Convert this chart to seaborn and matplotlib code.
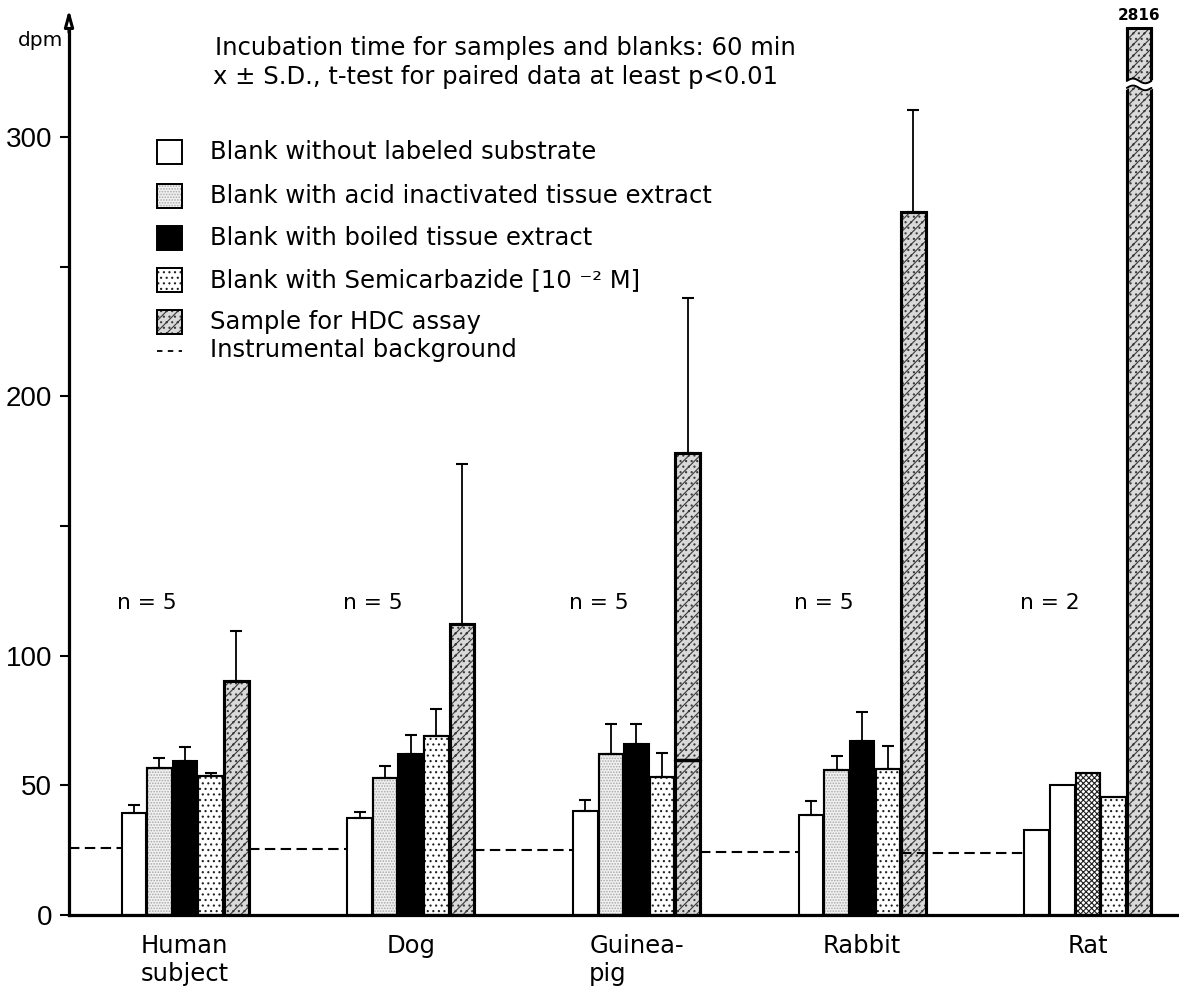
import numpy as np
import pandas as pd
import matplotlib
matplotlib.use("Agg")
import matplotlib.pyplot as plt
from matplotlib.patches import Rectangle
from matplotlib.lines import Line2D
import seaborn as sns

# ---------------------------------------------------------------- data
species = ["Human\nsubject", "Dog", "Guinea-\npig", "Rabbit", "Rat"]
n_animals = [5, 5, 5, 5, 2]

conditions = ["no_substrate", "acid", "boiled", "semicarbazide", "sample"]
condition_labels = [
    "Blank without labeled substrate",
    "Blank with acid inactivated tissue extract",
    "Blank with boiled tissue extract",
    "Blank with Semicarbazide [10 \u207b\u00b2 M]",
    "Sample for HDC assay",
]

# mean dpm per species
blank_no_substrate = [39.4, 37.5, 40.2, 38.5, 32.8]
blank_acid = [56.5, 52.9, 61.9, 55.9, 50.1]
blank_boiled = [59.4, 61.9, 65.9, 67.1, 54.6]
blank_semicarbazide = [53.6, 69.1, 53.3, 56.3, 45.6]
sample_hdc = [90.2, 112.1, 178.1, 271.1, 2816]

# standard deviations (upper whisker only); none reported for rat
sd_no_substrate = [3.0, 2.2, 4.1, 5.4, np.nan]
sd_acid = [4.0, 4.6, 11.7, 5.5, np.nan]
sd_boiled = [5.2, 7.6, 7.7, 11.2, np.nan]
sd_semicarbazide = [1.3, 10.2, 9.0, 9.0, np.nan]
sd_sample = [19.3, 61.6, 59.8, 39.2, np.nan]

# instrumental background level left of each species group
background = [25.7, 25.4, 25.1, 24.2, 24.0]
guinea_pig_mark = 59.7

means = [blank_no_substrate, blank_acid, blank_boiled, blank_semicarbazide, sample_hdc]
sds = [sd_no_substrate, sd_acid, sd_boiled, sd_semicarbazide, sd_sample]

df = pd.DataFrame(
    [(sp, cond, m[i]) for cond, m in zip(conditions, means) for i, sp in enumerate(species)],
    columns=["species", "condition", "dpm"],
)

# ---------------------------------------------------------------- style
sns.set_theme(style="white")
plt.rcParams["font.family"] = ["DejaVu Sans"]
plt.rcParams["text.color"] = "black"
plt.rcParams["xtick.color"] = "black"
plt.rcParams["ytick.color"] = "black"
plt.rcParams["axes.labelcolor"] = "black"
plt.rcParams["hatch.linewidth"] = 0.8

W, H = 1179, 996
fig = plt.figure(figsize=(W / 100, H / 100), dpi=100)
ax = fig.add_axes([69 / W, (H - 915) / H, (1178 - 69) / W, (915 - 28) / H])

face = {"no_substrate": "white", "acid": "#f1f1f1", "boiled": "black",
        "semicarbazide": "white", "sample": "#d9d9d9"}

sns.barplot(data=df, x="species", y="dpm", hue="condition", order=species,
            hue_order=conditions, palette=face, width=0.567, gap=0.04,
            edgecolor="black", linewidth=1.5, errorbar=None, legend=False,
            saturation=1, ax=ax)

Y_TOP = 342
ax.set_ylim(0, Y_TOP)
ax.set_xlim(-0.514, 4.399)

hatch_style = {
    "acid": ("......", "#a8a8a8"),
    "semicarbazide": ("...", "#202020"),
    "sample": ("///...", "#3a3a3a"),
}

bar_geom = {}
for cond, cont in zip(conditions, ax.containers):
    for i, p in enumerate(cont.patches):
        bar_geom[(cond, i)] = (p.get_x(), p.get_width(), p.get_height())
        hs = hatch_style.get(cond)
        if species[i] == "Rat" and cond == "boiled":
            p.set_facecolor("white")
            hs = ("xxxxxx", "#202020")
        if species[i] == "Rat" and cond == "acid":
            p.set_facecolor("white")
            hs = None
        if cond == "sample":
            p.set_linewidth(2.2)
        if hs is not None:
            ax.add_patch(Rectangle(p.get_xy(), p.get_width(), p.get_height(),
                                   fill=False, hatch=hs[0], edgecolor=hs[1],
                                   linewidth=0, zorder=p.get_zorder() + 0.1))
            # outline again on top of the texture
            ax.add_patch(Rectangle(p.get_xy(), p.get_width(), p.get_height(),
                                   fill=False, edgecolor="black",
                                   linewidth=p.get_linewidth(),
                                   zorder=p.get_zorder() + 0.2))

# upper S.D. whiskers
for cond, m, s in zip(conditions, means, sds):
    for i in range(len(species)):
        if np.isnan(s[i]):
            continue
        x0, w, h = bar_geom[(cond, i)]
        ax.errorbar(x0 + w / 2, m[i], yerr=[[0], [s[i]]], fmt="none",
                    ecolor="black", elinewidth=1.3, capsize=4.5, capthick=1.5,
                    zorder=1)

# instrumental background (dashed segments between groups)
for i in range(len(species)):
    if i == 0:
        xs = ax.get_xlim()[0]
    elif i == len(species) - 1:
        xs = bar_geom[("sample", i - 1)][0]
    else:
        x0, w, _ = bar_geom[("sample", i - 1)]
        xs = x0 + w
    xe = bar_geom[("no_substrate", i)][0]
    ax.plot([xs, xe], [background[i], background[i]], color="black", lw=1.5,
            ls=(0, (5, 2.6)), zorder=5)

gx0, gw, _ = bar_geom[("sample", 2)]
ax.plot([gx0, gx0 + gw], [guinea_pig_mark, guinea_pig_mark], color="black",
        lw=2.5, zorder=5)

# rat sample bar: top cap, axis break and value label
rx0, rw, rh = bar_geom[("sample", 4)]
ax.plot([rx0, rx0 + rw], [Y_TOP, Y_TOP], color="black", lw=2.2,
        clip_on=False, zorder=6, solid_capstyle="projecting")
xx = np.linspace(rx0 - 0.006, rx0 + rw + 0.006, 60)
wave = 0.9 * np.sin((xx - rx0) / rw * 2 * np.pi)
ax.fill_between(xx, 318.9 + wave, 321.6 + wave, color="white", zorder=7)
xw = np.linspace(rx0, rx0 + rw, 60)
ww = 0.9 * np.sin((xw - rx0) / rw * 2 * np.pi)
ax.plot(xw, 321.6 + ww, color="black", lw=1.4, zorder=8)
ax.plot(xw, 318.9 + ww, color="black", lw=1.4, zorder=8)
ax.annotate(f"{sample_hdc[4]}", xy=(rx0 + rw / 2, Y_TOP), xytext=(0, 5),
            textcoords="offset pixels", ha="center", va="bottom",
            fontsize=11, fontweight="bold", annotation_clip=False)

# n per group
for i, n in enumerate(n_animals):
    ax.text(i - 0.168, 120.3, f"n = {n}", ha="center", va="center", fontsize=15.7)

# ---------------------------------------------------------------- axes
sns.despine(ax=ax)
for side in ("left", "bottom"):
    ax.spines[side].set_linewidth(2.3)
    ax.spines[side].set_color("black")

ax.set_yticks([0, 50, 100, 150, 200, 250, 300])
ax.set_yticklabels(["0", "50", "100", "", "200", "", "300"],
                   fontfamily="Liberation Sans", fontsize=20)
ax.tick_params(axis="y", length=6.5, width=1.5, pad=5.5, color="black",
               left=True)
ax.tick_params(axis="x", length=0, pad=14)
for lab in ax.get_xticklabels():
    lab.set_fontsize(17.5)
    lab.set_multialignment("left")
ax.set_xlabel("")
ax.set_ylabel("")

ax.annotate("", xy=(0, 1.021), xytext=(0, 0.995), xycoords="axes fraction",
            arrowprops=dict(arrowstyle="-|>,head_length=0.8,head_width=0.22",
                            lw=2.2, fc="white", ec="black",
                            shrinkA=0, shrinkB=0))
fig.text(41 / W, 1 - 40 / H, "dpm", ha="center", va="center", fontsize=14.5)

# ---------------------------------------------------------------- notes and key
fig.text(215 / W, 1 - 48 / H, "Incubation time for samples and blanks: 60 min",
         ha="left", va="center", fontsize=17.5)
fig.text(213 / W, 1 - 77 / H, "x \u00b1 S.D., t-test for paired data at least p<0.01",
         ha="left", va="center", fontsize=17.5)

key_rows = [152, 196, 238, 280, 322]
key_face = ["white", "#f1f1f1", "black", "white", "#d9d9d9"]
key_hatch = [None, ("......", "#a8a8a8"), None, ("...", "#202020"), ("///...", "#3a3a3a")]
for yc, fc, hs, label in zip(key_rows, key_face, key_hatch, condition_labels):
    box = (157 / W, 1 - (yc + 12) / H)
    fig.add_artist(Rectangle(box, 25 / W, 24 / H, transform=fig.transFigure,
                             facecolor=fc, edgecolor="black", linewidth=1.4))
    if hs is not None:
        fig.add_artist(Rectangle(box, 25 / W, 24 / H, transform=fig.transFigure,
                                 fill=False, hatch=hs[0], edgecolor=hs[1],
                                 linewidth=0))
        fig.add_artist(Rectangle(box, 25 / W, 24 / H, transform=fig.transFigure,
                                 fill=False, edgecolor="black", linewidth=1.4))
    fig.text(210 / W, 1 - yc / H, label, ha="left", va="center", fontsize=17.5)

fig.add_artist(Line2D([157 / W, 182 / W], [1 - 351 / H] * 2, transform=fig.transFigure,
                      color="black", lw=1.3, ls=(0, (3, 3))))
fig.text(210 / W, 1 - 350 / H, "Instrumental background", ha="left", va="center",
         fontsize=17.5)

fig.savefig("out.png", dpi=100, facecolor="white")
